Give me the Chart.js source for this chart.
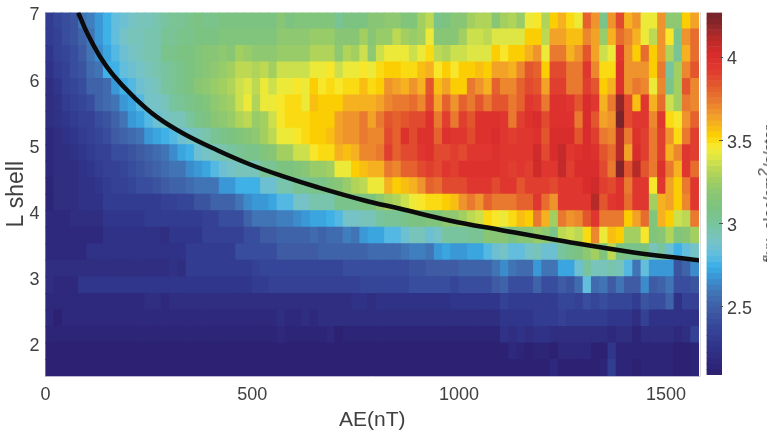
<!DOCTYPE html>
<html>
<head>
<meta charset="utf-8">
<script src="https://cdn.jsdelivr.net/npm/chart.js@4"></script>
<style>
  html, body { margin: 0; padding: 0; background: #fff; overflow: hidden; }
  #wrap { position: relative; width: 767px; height: 438px; overflow: hidden; }
  canvas { position: absolute; top: 0; }
  #unit {
    position: absolute; left: 769px; top: 194px; white-space: nowrap;
    font: 15.5px "Liberation Sans", Arial, sans-serif; color: #404040;
    transform: translate(-50%, -50%) rotate(-90deg);
  }
  #unit sup { font-size: 15.5px; line-height: 0; }
</style>
</head>
<body>
<div id="wrap">
  <canvas id="main" width="767" height="438" style="left:0"></canvas>
  <canvas id="cbar" width="67" height="438" style="left:700px"></canvas>
  <div id="unit">flux, elec/cm<sup>2</sup>/s/ster</div>
</div>
<script>
// AE bin starts (nT), each bin 20 wide
const aeBins = [0,20,40,60,80,100,120,140,160,180,200,220,240,260,280,300,320,340,360,380,
  400,420,440,460,480,500,520,540,560,580,600,620,640,660,680,700,720,740,760,780,
  800,820,840,860,880,900,920,940,960,980,1000,1020,1040,1060,1080,1100,1120,1140,1160,1180,
  1200,1220,1240,1260,1280,1300,1320,1340,1360,1380,1400,1420,1440,1460,1480,1500,1520,1540,1560];
const binWidth = 20;

// L shell lower edges, top row first
const lowerL = [6.75,6.5,6.25,6,5.75,5.5,5.25,5,4.75,4.5,4.25,4,3.75,3.5,3.25,3,2.75,2.5,2.25,2,1.75,1.5];
const rowHeight = 0.25;

// log10 flux, one list per L row
const rowL675 = [2.32,2.38,2.42,2.45,2.58,2.62,2.7,2.77,2.83,2.87,2.9,2.92,2.92,2.97,3.0,3.02,3.02,3.05,3.08,3.07,3.07,3.08,3.08,3.09,3.09,
  3.08,3.08,3.08,3.15,3.08,3.13,3.13,3.13,3.13,3.13,3.03,3.08,3.08,3.08,3.15,3.15,3.2,3.2,3.13,3.13,3.25,3.33,3.05,3.1,3.15,3.15,3.27,3.3,3.3,3.15,
  3.28,3.3,3.22,3.45,3.47,3.3,3.53,3.6,3.49,3.43,3.8,3.66,3.05,3.68,3.87,3.62,3.68,3.45,3.45,3.68,3.2,3.2,3.53,3.64];
const rowL650 = [2.3,2.36,2.4,2.45,2.52,2.6,2.67,2.76,2.83,2.88,2.92,2.92,2.95,2.95,3.02,3.02,3.05,3.07,3.08,3.1,3.1,3.12,3.13,3.13,3.13,
  3.13,3.13,3.13,3.18,3.18,3.18,3.18,3.22,3.22,3.22,3.17,3.17,3.17,3.28,3.15,3.24,3.24,3.33,3.25,3.22,3.25,3.43,3.17,3.17,3.17,3.27,3.37,3.37,3.33,3.4,
  3.4,3.4,3.4,3.55,3.55,3.33,3.65,3.65,3.56,3.56,3.72,3.63,3.22,3.6,3.78,3.72,3.6,3.45,3.35,3.66,3.47,3.05,3.66,3.76];
const rowL625 = [2.27,2.33,2.38,2.42,2.48,2.58,2.65,2.72,2.78,2.84,2.9,2.92,2.95,2.97,3.05,3.05,3.1,3.1,3.12,3.15,3.17,3.18,3.17,3.28,3.22,
  3.2,3.2,3.2,3.24,3.24,3.24,3.24,3.3,3.3,3.3,3.18,3.3,3.27,3.38,3.2,3.38,3.43,3.43,3.43,3.38,3.42,3.5,3.33,3.3,3.36,3.36,3.4,3.4,3.4,3.55,
  3.48,3.53,3.53,3.62,3.68,3.45,3.74,3.74,3.6,3.67,3.84,3.63,3.38,3.42,3.95,3.68,3.53,3.78,3.55,3.68,3.3,3.02,3.62,3.76];
const rowL600 = [2.25,2.3,2.36,2.4,2.45,2.55,2.58,2.75,2.76,2.83,2.87,2.9,2.93,2.97,3.0,3.03,3.05,3.08,3.12,3.15,3.2,3.22,3.27,3.33,3.35,
  3.3,3.35,3.25,3.38,3.38,3.38,3.38,3.45,3.45,3.48,3.36,3.43,3.43,3.47,3.42,3.52,3.54,3.54,3.51,3.51,3.57,3.6,3.47,3.53,3.47,3.53,3.55,3.57,3.55,3.63,
  3.65,3.6,3.7,3.85,3.8,3.55,3.87,3.87,3.75,3.75,3.95,3.72,3.5,3.52,3.97,3.68,3.68,3.68,3.55,3.73,3.0,3.28,3.72,3.83];
const rowL575 = [2.22,2.27,2.33,2.38,2.43,2.5,2.52,2.56,2.68,2.76,2.8,2.87,2.9,2.92,3.0,3.03,3.05,3.1,3.15,3.18,3.22,3.27,3.3,3.38,3.4,
  3.33,3.43,3.36,3.42,3.42,3.48,3.42,3.53,3.47,3.52,3.47,3.51,3.51,3.56,3.5,3.53,3.67,3.65,3.6,3.67,3.6,3.85,3.57,3.63,3.55,3.55,3.73,3.67,3.6,3.82,
  3.7,3.7,3.8,3.87,3.83,3.63,3.92,3.92,3.73,3.75,3.92,3.83,3.53,3.62,3.97,3.68,3.74,3.7,3.45,3.7,3.05,3.25,3.83,3.72];
const rowL550 = [2.2,2.25,2.3,2.33,2.37,2.42,2.5,2.55,2.6,2.67,2.73,2.78,2.88,2.9,2.93,2.98,3.02,3.05,3.1,3.13,3.18,3.23,3.28,3.38,3.42,
  3.3,3.43,3.43,3.46,3.5,3.5,3.43,3.57,3.54,3.54,3.54,3.6,3.6,3.6,3.6,3.63,3.7,3.75,3.75,3.78,3.7,3.87,3.63,3.8,3.68,3.8,3.75,3.85,3.75,3.85,
  3.85,3.75,3.82,3.95,3.92,3.75,3.97,3.97,3.93,3.86,4.03,3.93,3.62,3.75,4.18,3.87,3.58,3.96,3.62,3.78,3.38,3.25,3.73,3.72];
const rowL525 = [2.2,2.23,2.28,2.3,2.33,2.36,2.4,2.45,2.5,2.6,2.68,2.72,2.8,2.85,2.88,2.92,2.93,3.0,3.05,3.1,3.15,3.18,3.22,3.3,3.33,
  3.22,3.28,3.37,3.47,3.5,3.5,3.5,3.55,3.55,3.55,3.65,3.68,3.68,3.75,3.65,3.75,3.85,3.8,3.83,3.87,3.87,3.97,3.75,3.92,3.75,3.92,3.85,3.97,3.97,3.97,
  3.95,3.75,3.9,3.97,4.03,3.88,3.97,3.97,3.97,3.74,4.03,3.83,3.63,3.68,4.24,3.88,3.93,3.95,3.72,3.95,3.52,3.46,3.66,3.82];
const rowL500 = [2.18,2.22,2.26,2.28,2.3,2.33,2.37,2.42,2.47,2.5,2.55,2.58,2.68,2.73,2.76,2.78,2.85,2.9,2.93,2.97,3.03,3.05,3.1,3.13,3.17,
  3.2,3.25,3.32,3.42,3.42,3.47,3.52,3.55,3.55,3.58,3.65,3.66,3.66,3.74,3.7,3.72,3.87,3.8,3.97,3.87,3.97,3.98,3.8,3.97,3.95,3.95,3.87,3.98,3.98,4.03,
  3.93,3.92,3.93,3.93,3.97,3.85,4.0,4.03,4.0,3.85,4.03,3.9,3.75,3.72,4.1,3.75,3.97,3.9,3.75,3.9,3.68,3.52,3.75,3.9];
const rowL475 = [2.18,2.2,2.22,2.25,2.28,2.3,2.33,2.36,2.4,2.43,2.45,2.48,2.52,2.55,2.6,2.65,2.72,2.76,2.85,2.88,2.92,2.97,3.0,3.03,3.05,
  3.05,3.12,3.17,3.27,3.27,3.37,3.37,3.48,3.5,3.5,3.62,3.57,3.62,3.72,3.72,3.75,3.9,3.82,3.88,3.88,3.95,3.98,3.87,3.87,3.92,3.88,3.95,3.93,3.93,3.98,
  3.93,3.93,3.93,3.95,4.05,3.87,4.0,4.07,3.95,3.97,4.03,3.98,3.85,3.78,4.12,3.65,4.03,3.9,3.75,3.92,3.6,3.72,3.95,3.9];
const rowL450 = [2.16,2.2,2.2,2.22,2.25,2.28,2.3,2.33,2.35,2.38,2.42,2.45,2.47,2.5,2.55,2.58,2.6,2.66,2.7,2.72,2.78,2.86,2.88,2.93,2.93,
  2.93,3.03,3.03,3.1,3.1,3.12,3.15,3.22,3.22,3.28,3.45,3.45,3.53,3.56,3.62,3.62,3.75,3.72,3.8,3.8,3.88,3.92,3.87,3.93,3.9,3.97,3.97,3.97,3.97,3.97,
  3.93,3.92,3.93,3.9,4.05,3.93,3.93,4.07,3.9,4.0,4.03,4.02,3.87,3.75,4.23,3.85,4.12,3.83,3.75,3.97,3.75,3.6,3.93,3.78];
const rowL425 = [2.15,2.2,2.2,2.22,2.23,2.24,2.27,2.3,2.33,2.36,2.38,2.4,2.42,2.45,2.48,2.5,2.52,2.55,2.57,2.58,2.6,2.67,2.68,2.74,2.77,
  2.77,2.85,2.85,2.95,2.95,3.03,3.03,3.07,3.07,3.12,3.17,3.22,3.3,3.33,3.42,3.42,3.62,3.53,3.58,3.6,3.68,3.8,3.76,3.88,3.88,3.88,3.95,3.95,3.95,3.87,
  3.93,3.93,3.85,3.92,3.92,3.92,3.87,3.95,3.93,3.95,4.03,4.05,3.9,3.87,3.97,3.75,3.95,3.95,3.47,3.95,3.65,3.55,3.75,3.95];
const rowL400 = [2.15,2.22,2.22,2.22,2.24,2.24,2.24,2.3,2.3,2.3,2.3,2.32,2.32,2.32,2.36,2.36,2.38,2.38,2.45,2.45,2.52,2.52,2.52,2.6,2.65,
  2.67,2.67,2.72,2.8,2.8,2.9,2.9,2.95,2.95,2.95,3.07,3.07,3.07,3.1,3.1,3.18,3.25,3.3,3.36,3.42,3.46,3.51,3.51,3.55,3.58,3.66,3.73,3.68,3.82,3.75,
  3.75,3.74,3.82,3.82,3.93,3.76,3.68,3.94,3.94,3.94,3.94,4.13,3.85,3.94,3.97,3.78,3.95,3.95,3.27,3.6,3.64,3.53,3.7,3.95];
const rowL375 = [2.17,2.17,2.17,2.22,2.22,2.22,2.22,2.27,2.27,2.27,2.27,2.27,2.3,2.3,2.3,2.32,2.32,2.32,2.32,2.36,2.36,2.43,2.43,2.43,2.52,
  2.57,2.57,2.58,2.62,2.62,2.65,2.7,2.72,2.72,2.76,2.79,2.88,2.88,2.92,2.92,3.0,3.03,3.03,3.06,3.1,3.1,3.13,3.13,3.2,3.2,3.27,3.33,3.38,3.5,3.48,
  3.44,3.5,3.56,3.53,3.74,3.6,3.28,3.74,3.66,3.7,3.84,3.95,3.73,3.73,3.73,3.53,3.64,3.76,3.12,3.6,3.53,3.38,3.35,3.74];
const rowL350 = [2.17,2.17,2.17,2.17,2.17,2.17,2.17,2.23,2.23,2.23,2.23,2.23,2.23,2.25,2.21,2.27,2.27,2.27,2.27,2.35,2.35,2.35,2.35,2.35,2.4,
  2.43,2.47,2.47,2.5,2.5,2.52,2.52,2.55,2.52,2.54,2.55,2.62,2.6,2.68,2.72,2.72,2.78,2.78,2.85,2.93,2.93,2.85,2.9,2.98,2.98,3.0,3.03,3.03,3.15,3.15,
  3.15,3.1,3.17,3.17,3.22,3.2,3.05,3.33,3.38,3.33,3.5,3.72,3.45,3.58,3.53,3.28,3.28,3.46,3.12,3.17,3.3,3.13,3.15,3.25];
const rowL325 = [2.18,2.18,2.18,2.18,2.18,2.25,2.25,2.25,2.25,2.25,2.25,2.25,2.25,2.25,2.25,2.25,2.25,2.32,2.32,2.32,2.32,2.32,2.32,2.4,2.4,
  2.43,2.43,2.43,2.47,2.47,2.47,2.47,2.48,2.5,2.5,2.5,2.5,2.5,2.5,2.55,2.55,2.55,2.55,2.58,2.62,2.62,2.6,2.68,2.72,2.67,2.67,2.72,2.72,2.78,2.87,
  2.9,2.82,2.82,2.88,2.92,2.85,2.85,3.0,3.05,3.08,3.2,3.27,3.12,3.33,3.1,3.05,3.05,3.1,2.92,2.98,2.87,2.75,2.82,2.88];
const rowL300 = [2.2,2.2,2.2,2.2,2.2,2.2,2.2,2.2,2.2,2.2,2.2,2.2,2.2,2.2,2.2,2.24,2.2,2.3,2.3,2.3,2.3,2.3,2.3,2.3,2.3,
  2.33,2.38,2.38,2.38,2.38,2.38,2.38,2.38,2.38,2.38,2.38,2.41,2.41,2.42,2.42,2.42,2.43,2.43,2.43,2.45,2.44,2.47,2.47,2.47,2.47,2.53,2.53,2.53,2.53,2.6,
  2.64,2.57,2.55,2.55,2.7,2.58,2.58,2.72,2.72,2.85,2.98,2.93,2.93,2.95,2.93,2.8,2.57,2.82,2.7,2.7,2.7,2.45,2.5,2.65];
const rowL275 = [2.22,2.18,2.18,2.18,2.27,2.27,2.27,2.27,2.27,2.27,2.27,2.27,2.27,2.27,2.27,2.27,2.27,2.27,2.27,2.27,2.27,2.27,2.27,2.27,2.27,
  2.3,2.3,2.33,2.33,2.33,2.33,2.33,2.33,2.33,2.33,2.33,2.33,2.33,2.37,2.37,2.37,2.37,2.37,2.37,2.4,2.4,2.4,2.4,2.4,2.38,2.42,2.42,2.42,2.42,2.47,
  2.5,2.42,2.42,2.42,2.5,2.42,2.42,2.48,2.45,2.55,2.82,2.55,2.6,2.48,2.58,2.47,2.47,2.65,2.48,2.5,2.6,2.42,2.42,2.44];
const rowL250 = [2.17,2.17,2.17,2.17,2.17,2.17,2.17,2.17,2.17,2.17,2.17,2.17,2.2,2.2,2.16,2.22,2.22,2.22,2.22,2.22,2.22,2.22,2.22,2.22,2.22,
  2.22,2.22,2.22,2.22,2.22,2.22,2.22,2.22,2.22,2.22,2.22,2.22,2.24,2.24,2.21,2.26,2.26,2.26,2.26,2.26,2.26,2.26,2.26,2.26,2.29,2.29,2.29,2.29,2.29,2.29,
  2.33,2.3,2.3,2.3,2.3,2.3,2.3,2.38,2.38,2.36,2.42,2.38,2.42,2.37,2.37,2.37,2.32,2.45,2.42,2.42,2.5,2.25,2.33,2.33];
const rowL225 = [2.16,2.12,2.18,2.18,2.18,2.18,2.18,2.18,2.18,2.18,2.18,2.18,2.18,2.18,2.18,2.18,2.18,2.18,2.18,2.18,2.18,2.18,2.18,2.18,2.18,
  2.19,2.19,2.19,2.22,2.18,2.18,2.22,2.18,2.2,2.2,2.2,2.2,2.2,2.2,2.2,2.2,2.2,2.2,2.2,2.2,2.2,2.2,2.22,2.22,2.22,2.22,2.22,2.22,2.22,2.22,
  2.27,2.27,2.27,2.27,2.3,2.3,2.3,2.36,2.3,2.31,2.31,2.31,2.32,2.27,2.27,2.27,2.2,2.33,2.24,2.24,2.24,2.24,2.24,2.24];
const rowL200 = [2.14,2.14,2.14,2.14,2.14,2.14,2.14,2.14,2.14,2.14,2.14,2.14,2.14,2.14,2.14,2.14,2.14,2.14,2.14,2.14,2.14,2.14,2.14,2.14,2.14,
  2.15,2.15,2.15,2.17,2.13,2.13,2.13,2.13,2.13,2.17,2.11,2.15,2.15,2.15,2.15,2.15,2.15,2.15,2.15,2.15,2.15,2.15,2.15,2.15,2.15,2.15,2.15,2.13,2.13,2.13,
  2.24,2.22,2.25,2.2,2.26,2.26,2.2,2.2,2.2,2.2,2.22,2.22,2.22,2.17,2.2,2.2,2.15,2.2,2.2,2.2,2.2,2.17,2.2,2.33];
const rowL175 = [2.09,2.09,2.09,2.09,2.09,2.09,2.09,2.09,2.09,2.09,2.09,2.09,2.09,2.09,2.09,2.09,2.09,2.09,2.09,2.09,2.09,2.09,2.09,2.09,2.09,
  2.09,2.09,2.09,2.09,2.09,2.09,2.09,2.09,2.09,2.09,2.09,2.09,2.09,2.09,2.09,2.1,2.08,2.08,2.08,2.1,2.1,2.1,2.1,2.1,2.1,2.1,2.1,2.1,2.1,2.08,
  2.12,2.17,2.15,2.1,2.15,2.15,2.1,2.17,2.17,2.17,2.17,2.12,2.12,2.28,2.15,2.15,2.13,2.13,2.13,2.13,2.13,2.12,2.12,2.15];
const rowL150 = [2.09,2.09,2.09,2.09,2.09,2.09,2.09,2.09,2.09,2.09,2.09,2.09,2.09,2.09,2.09,2.09,2.09,2.09,2.09,2.09,2.09,2.09,2.09,2.09,2.09,
  2.09,2.09,2.09,2.09,2.09,2.09,2.09,2.09,2.09,2.09,2.09,2.09,2.09,2.09,2.09,2.09,2.09,2.09,2.09,2.09,2.09,2.12,2.09,2.09,2.09,2.09,2.09,2.09,2.09,2.09,
  2.12,2.12,2.12,2.12,2.12,2.12,2.18,2.12,2.12,2.12,2.1,2.1,2.15,2.3,2.13,2.13,2.08,2.13,2.13,2.13,2.13,2.08,2.12,2.14];

const fluxRows = [rowL675,rowL650,rowL625,rowL600,rowL575,rowL550,rowL525,rowL500,rowL475,rowL450,rowL425,
  rowL400,rowL375,rowL350,rowL325,rowL300,rowL275,rowL250,rowL225,rowL200,rowL175,rowL150];

// black curve
const curveAE = [79,101,132,164,212,269,333,414,495,575,656,769,858,979,1100,1261,1422,1581];
const curveL = [7,6.685,6.33,6.05,5.73,5.42,5.17,4.92,4.7,4.52,4.36,4.16,4.03,3.85,3.71,3.53,3.37,3.25];

const xTicks = [0,500,1000,1500];
const yTicks = [2,3,4,5,6,7];
const cbarTicks = [2.5,3,3.5,4];

// colour map
const stopValues = [2.09,2.27,2.39,2.5,2.6,2.68,2.75,2.81,2.9,3.0,3.1,3.2,3.27,3.35,3.42,3.47,3.53,3.6,3.66,3.74,3.83,3.92,4.0,4.07,4.13,4.2,4.27];
const stopColors = ['#2c1f70','#30358a','#36489a','#3f5fa6','#4178b8','#3a96d6','#3cb0e6','#60bce0','#78c4c4','#78c49c','#7cc280','#8fc870','#a4d060','#c4dc50','#e6ea40','#f8e62a','#fcd000','#f5b41e','#f09a2c','#ea7a30','#e35a2d','#e03c30','#dc2e2c','#c92a2a','#b02a28','#8a2528','#74232a'];
const cMin = 2.09, cMax = 4.27, levels = 64;

function hexRgb(h) {
  return [parseInt(h.slice(1,3),16), parseInt(h.slice(3,5),16), parseInt(h.slice(5,7),16)];
}

function colorAt(v) {
  let i = 0;
  while (i < stopValues.length - 2 && v > stopValues[i+1]) i++;
  const t = Math.min(1, Math.max(0, (v - stopValues[i]) / (stopValues[i+1] - stopValues[i])));
  const a = hexRgb(stopColors[i]), b = hexRgb(stopColors[i+1]);
  return `rgb(${a.map((c,k) => Math.round(c + (b[k]-c)*t)).join(',')})`;
}

// same 64 step quantisation as the colour bar
function levelColor(v) {
  const step = (cMax - cMin) / levels;
  const n = Math.min(levels - 1, Math.max(0, Math.floor((v - cMin) / step)));
  return colorAt(cMin + (n + 0.5) * step);
}

const cells = [];
const cellColors = [];
fluxRows.forEach((row, r) => {
  row.forEach((v, c) => {
    cells.push({ x: aeBins[c] + binWidth/2, y: [lowerL[r], lowerL[r] + rowHeight] });
    cellColors.push(levelColor(v));
  });
});

const textColor = '#404040';
const fontFamily = '"Liberation Sans", Arial, sans-serif';
Chart.defaults.font.family = fontFamily;
Chart.defaults.color = textColor;

// keep the plot box fixed, labels may hang over it
const noOverhang = s => { s.paddingTop = s.paddingBottom = s.paddingLeft = s.paddingRight = 0; };

new Chart(document.getElementById('main'), {
  type: 'bar',
  data: {
    datasets: [
      {
        type: 'line',
        data: curveAE.map((x, i) => ({ x, y: curveL[i] })),
        borderColor: '#0b0b0b',
        borderWidth: 4.5,
        pointRadius: 0,
        fill: false,
        tension: 0.4,
        order: 1
      },
      {
        data: cells,
        backgroundColor: cellColors,
        borderWidth: 0,
        inflateAmount: 0.5,
        barPercentage: 1,
        categoryPercentage: 1,
        order: 2
      }
    ]
  },
  options: {
    responsive: false,
    animation: false,
    events: [],
    layout: { padding: { top: 12.5, right: 68, left: 0, bottom: 0 } },
    plugins: { legend: { display: false }, tooltip: { enabled: false } },
    scales: {
      x: {
        type: 'linear',
        offset: false,
        min: 0,
        max: 1580,
        afterBuildTicks: s => { s.ticks = xTicks.map(value => ({ value })); },
        afterFit: s => { s.height = 62; noOverhang(s); },
        grid: { drawOnChartArea: false, drawTicks: false, offset: false },
        border: { color: '#b9b6d6', width: 1 },
        ticks: { font: { size: 18 }, padding: 8, maxRotation: 0, autoSkip: false, callback: v => String(v) },
        title: { display: true, text: 'AE(nT)', font: { size: 21 }, padding: { top: 0, bottom: 5 } }
      },
      y: {
        type: 'linear',
        min: 1.5,
        max: 7,
        afterBuildTicks: s => { s.ticks = yTicks.map(value => ({ value })); },
        afterFit: s => { s.width = 45.5; noOverhang(s); },
        grid: { drawOnChartArea: false, drawTicks: false },
        border: { color: '#b9b6d6', width: 1 },
        ticks: { font: { size: 18 }, padding: 6, labelOffset: 3, callback: v => String(v) },
        title: { display: true, text: 'L shell', font: { size: 23 }, padding: { top: 3, bottom: 0 } }
      }
    }
  }
});

const cbarStep = (cMax - cMin) / levels;
const cbarCells = [], cbarColors = [];
for (let n = 0; n < levels; n++) {
  const lo = cMin + n * cbarStep;
  cbarCells.push({ x: 0.5, y: [lo, lo + cbarStep] });
  cbarColors.push(levelColor(lo + cbarStep / 2));
}

new Chart(document.getElementById('cbar'), {
  type: 'bar',
  data: { datasets: [{ data: cbarCells, backgroundColor: cbarColors, borderWidth: 0, inflateAmount: 0.3, barPercentage: 1, categoryPercentage: 1 }] },
  options: {
    responsive: false,
    animation: false,
    events: [],
    layout: { padding: { top: 12.5, left: 6.5, right: 0, bottom: 63 } },
    plugins: { legend: { display: false }, tooltip: { enabled: false } },
    scales: {
      x: { type: 'linear', offset: false, min: 0, max: 1, display: false },
      y: {
        type: 'linear',
        position: 'right',
        min: cMin,
        max: cMax,
        afterBuildTicks: s => { s.ticks = cbarTicks.map(value => ({ value })); },
        afterFit: s => { s.width = 45; noOverhang(s); },
        grid: { drawOnChartArea: false, tickLength: -3, tickColor: '#555', z: 1 },
        border: { color: '#b5b5b5', width: 1 },
        ticks: { font: { size: 18 }, padding: 8, labelOffset: 2, callback: v => String(v) }
      }
    }
  }
});
</script>
</body>
</html>
